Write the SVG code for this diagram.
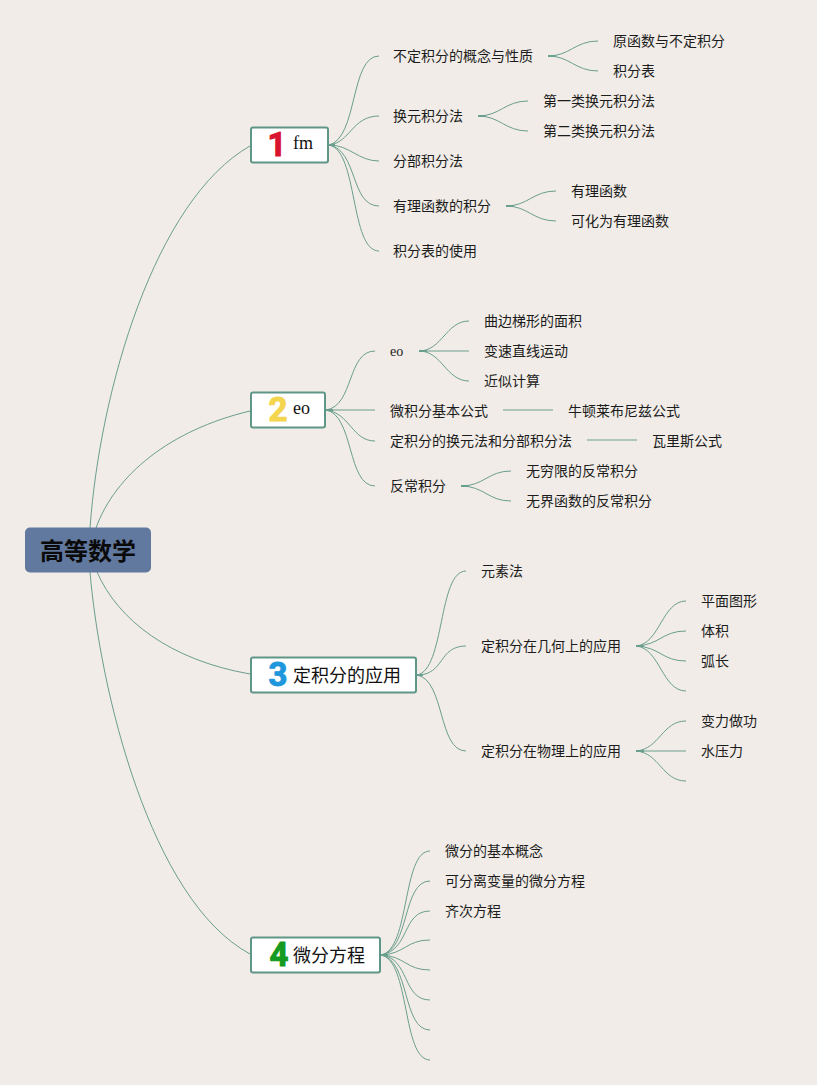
<svg xmlns="http://www.w3.org/2000/svg" width="817" height="1085" viewBox="0 0 817 1085">
<style>
text{font-family:"Noto Sans CJK SC","Liberation Sans",sans-serif;font-size:14px;fill:#1c1c1c}
.lat{font-family:"Liberation Serif",serif}
.nt{font-size:18px;fill:#111}
.nlat{font-family:"Liberation Serif",serif;font-size:18px;fill:#111}
.box{fill:#fff;stroke:#5f9688;stroke-width:2}
.num{font-family:Roboto,"Liberation Sans",sans-serif;font-size:33px;font-weight:700;text-anchor:middle;stroke-width:1;stroke-linejoin:round}
#connectors path{fill:none;stroke:#6a9e8e;stroke-width:1}
#connectors path.stub{stroke-width:2}
</style>
<rect width="817" height="1085" fill="#f1ece7"/>
<g id="connectors">
<path d="M90 528C100 390 155 200 250 146"/>
<path d="M96 528C115 475 170 430 250 411"/>
<path d="M97 572C118 620 170 660 250 674"/>
<path d="M90 572C100 690 150 900 250 954"/>
<path d="M329 145C358 138 350 56 379 56"/>
<path d="M329 145C350 143 352 116 379 116"/>
<path d="M329 145C350 145 358 161 379 161"/>
<path d="M329 145C358 150 350 206 379 206"/>
<path d="M329 145C358 150 350 251 379 251"/>
<path d="M548 56C570 56 575 41 598 41"/>
<path d="M548 56C570 56 575 71 598 71"/>
<path d="M478 116C500 116 505 101 528 101"/>
<path d="M478 116C500 116 505 131 528 131"/>
<path d="M506 206C528 206 533 191 556 191"/>
<path d="M506 206C528 206 533 221 556 221"/>
<path d="M326 410C354 406 347 351 375 351"/>
<path d="M326 410H375"/>
<path d="M326 410C350 413 352 441 375 441"/>
<path d="M326 410C354 415 347 486 375 486"/>
<path d="M419 351C442 351 446 321 469 321"/>
<path d="M419 351H469"/>
<path d="M419 351C442 351 446 381 469 381"/>
<path d="M503 410H553"/>
<path d="M587 440H637"/>
<path d="M461 486C484 486 488 471 511 471"/>
<path d="M461 486C484 486 488 501 511 501"/>
<path d="M417 675C445 670 438 571 466 571"/>
<path d="M417 675C445 675 438 646 466 646"/>
<path d="M417 675C445 680 438 751 466 751"/>
<path d="M636 646C660 644 662 601 686 601"/>
<path d="M636 646C660 645 662 631 686 631"/>
<path d="M636 646C660 647 662 661 686 661"/>
<path d="M636 646C660 648 662 691 686 691"/>
<path d="M636 751C660 749 662 721 686 721"/>
<path d="M636 751H686"/>
<path d="M636 751C660 753 662 781 686 781"/>
<path d="M381 955C410 950 402 851 430 851"/>
<path d="M381 955C410 950 402 881 430 881"/>
<path d="M381 955C410 950 402 911 430 911"/>
<path d="M381 955C405 954 406 940 430 940"/>
<path d="M381 955C405 956 406 970 430 970"/>
<path d="M381 955C410 958 402 1000 430 1000"/>
<path d="M381 955C410 960 402 1030 430 1030"/>
<path d="M381 955C410 960 402 1060 430 1060"/>
<path class="stub" d="M329 145H335M548 56H556M478 116H486M506 206H514M326 410H333M419 351H427M461 486H469M417 675H423M636 646H644M636 751H644M381 955H388"/>
</g>
<g id="root"><rect x="25" y="527.500" width="126" height="45" rx="5" fill="#62799f"/><text x="88" y="560" text-anchor="middle" style="font-size:24px;font-weight:700;fill:#0a0a0a">高等数学</text></g>
<g id="n1"><rect class="box" x="251" y="127.500" width="77" height="35" rx="2"/><text class="num" x="277" y="156" style="fill:#d9142f;stroke:#d9142f">1</text><text class="nlat" x="293" y="149">fm</text></g>
<g id="n2"><rect class="box" x="251" y="392.500" width="74" height="35" rx="2"/><text class="num" x="278" y="421" style="fill:#f3d54e;stroke:#f3d54e">2</text><text class="nlat" x="293" y="414">eo</text></g>
<g id="n3"><rect class="box" x="251" y="657.500" width="165" height="35" rx="2"/><text class="num" x="278" y="686" style="fill:#1f97dc;stroke:#1f97dc">3</text><text class="nt" x="293" y="682">定积分的应用</text></g>
<g id="n4"><rect class="box" x="251" y="937.500" width="129" height="35" rx="2"/><text class="num" x="279" y="966" style="fill:#149a22;stroke:#149a22">4</text><text class="nt" x="293" y="962">微分方程</text></g>
<g id="labels">
<text x="393" y="61">不定积分的概念与性质</text>
<text x="613" y="46">原函数与不定积分</text>
<text x="613" y="76">积分表</text>
<text x="393" y="121">换元积分法</text>
<text x="543" y="106">第一类换元积分法</text>
<text x="543" y="136">第二类换元积分法</text>
<text x="393" y="166">分部积分法</text>
<text x="393" y="211">有理函数的积分</text>
<text x="571" y="196">有理函数</text>
<text x="571" y="226">可化为有理函数</text>
<text x="393" y="256">积分表的使用</text>
<text class="lat" x="390" y="356">eo</text>
<text x="484" y="326">曲边梯形的面积</text>
<text x="484" y="356">变速直线运动</text>
<text x="484" y="386">近似计算</text>
<text x="390" y="416">微积分基本公式</text>
<text x="568" y="416">牛顿莱布尼兹公式</text>
<text x="390" y="446">定积分的换元法和分部积分法</text>
<text x="652" y="446">瓦里斯公式</text>
<text x="390" y="491">反常积分</text>
<text x="526" y="476">无穷限的反常积分</text>
<text x="526" y="506">无界函数的反常积分</text>
<text x="481" y="576">元素法</text>
<text x="481" y="651">定积分在几何上的应用</text>
<text x="701" y="606">平面图形</text>
<text x="701" y="636">体积</text>
<text x="701" y="666">弧长</text>
<text x="481" y="756">定积分在物理上的应用</text>
<text x="701" y="726">变力做功</text>
<text x="701" y="756">水压力</text>
<text x="445" y="856">微分的基本概念</text>
<text x="445" y="886">可分离变量的微分方程</text>
<text x="445" y="916">齐次方程</text>
</g>
</svg>
